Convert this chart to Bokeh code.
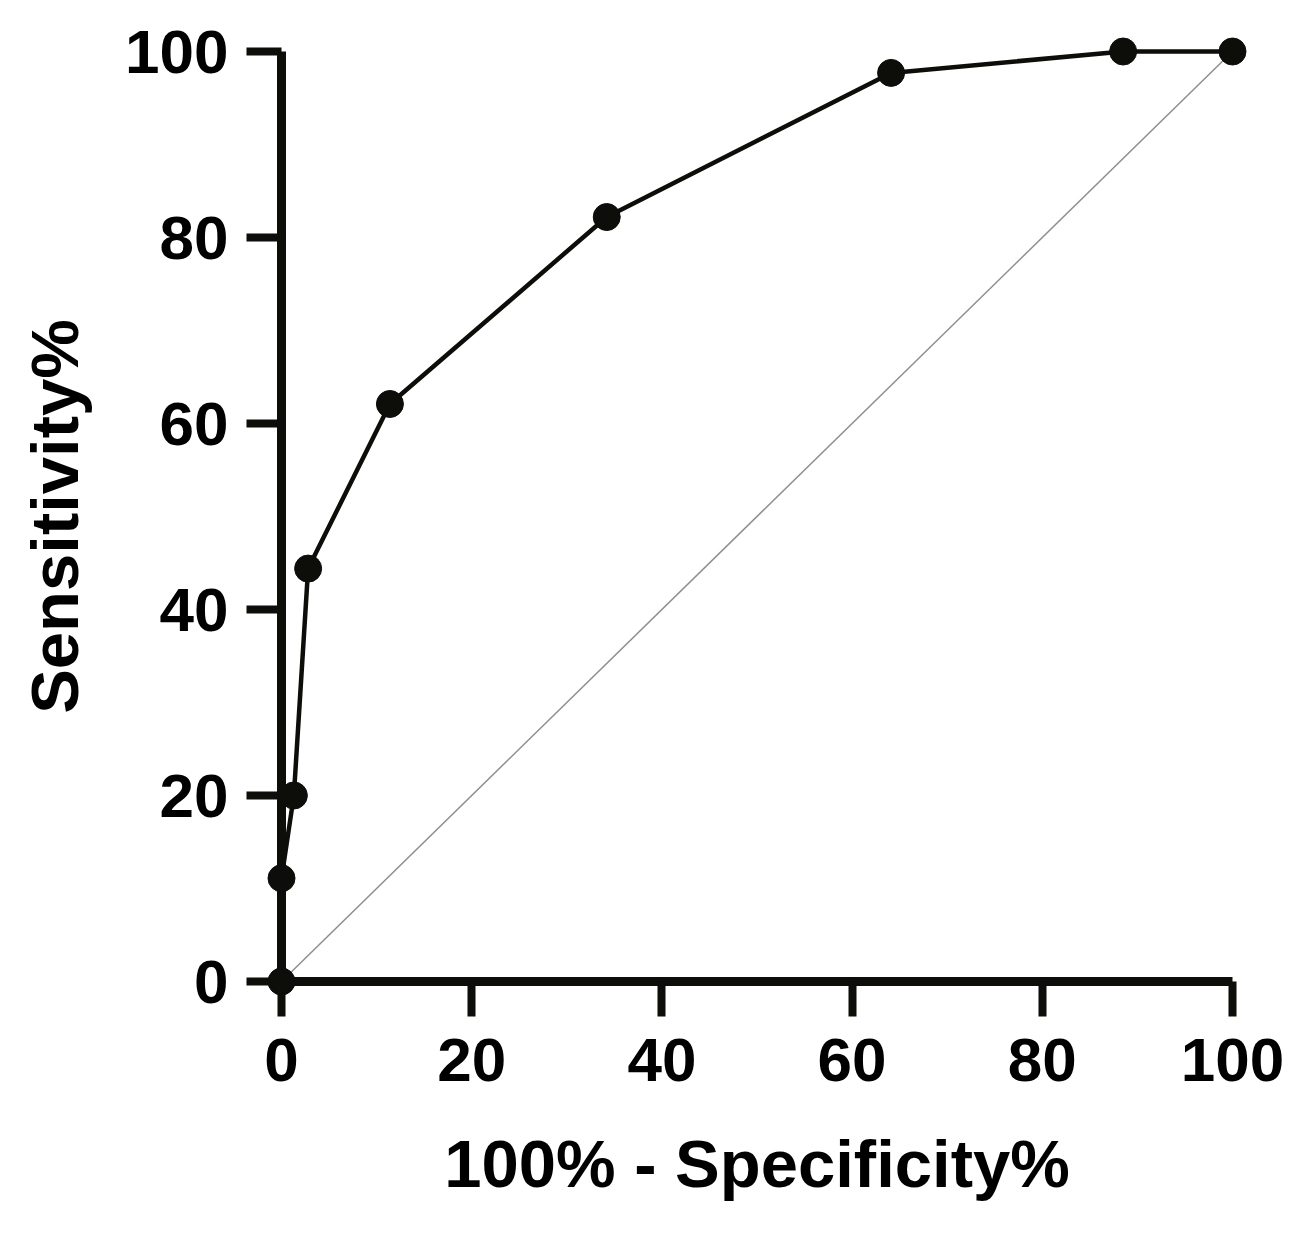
from bokeh.plotting import figure
from bokeh.models import Range1d, FixedTicker
from bokeh.embed import file_html
from bokeh.resources import INLINE

# ROC curve data
fpr = [0, 0, 1.3, 2.8, 11.4, 34.2, 64.1, 88.5, 100]      # 100% - Specificity%
tpr = [0, 11.1, 20.0, 44.4, 62.1, 82.2, 97.7, 100, 100]  # Sensitivity%
ref_x = [0, 100]
ref_y = [0, 100]
ticks = [0, 20, 40, 60, 80, 100]

FONT = "Liberation Sans"
INK = "#0d0d0a"

p = figure(frame_width=951, frame_height=930,
           x_range=Range1d(0, 100), y_range=Range1d(0, 100),
           output_backend="svg", toolbar_location=None,
           min_border_left=281, min_border_right=56,
           min_border_top=51, min_border_bottom=235)

p.outline_line_color = None
p.xgrid.grid_line_color = None
p.ygrid.grid_line_color = None
p.background_fill_color = "white"
p.border_fill_color = "white"

for ax in (p.xaxis[0], p.yaxis[0]):
    ax.ticker = FixedTicker(ticks=ticks)
    ax.axis_line_width = 9
    ax.axis_line_color = INK
    ax.major_tick_line_width = 8
    ax.major_tick_line_color = INK
    ax.major_tick_out = 35
    ax.major_tick_in = 0
    ax.minor_tick_line_color = None
    ax.major_label_text_font = FONT
    ax.major_label_text_font_style = "bold"
    ax.major_label_text_font_size = "62px"
    ax.major_label_text_color = "black"
    ax.axis_label_text_font = FONT
    ax.axis_label_text_font_style = "bold"
    ax.axis_label_text_font_size = "67px"
    ax.axis_label_text_color = "black"

p.xaxis.axis_label = "100% - Specificity%"
p.yaxis.axis_label = "Sensitivity%"
p.xaxis.major_label_standoff = 22
p.yaxis.major_label_standoff = 18
p.xaxis.axis_label_standoff = 42
p.yaxis.axis_label_standoff = 30

# reference diagonal
p.line(ref_x, ref_y, line_color="#8f8f8f", line_width=1.5)

# ROC curve
p.line(fpr, tpr, line_color=INK, line_width=4.5, level="overlay")
p.scatter(fpr, tpr, size=27, fill_color=INK, line_color=INK, level="overlay")

open("out.html", "w").write(file_html(p, INLINE))
